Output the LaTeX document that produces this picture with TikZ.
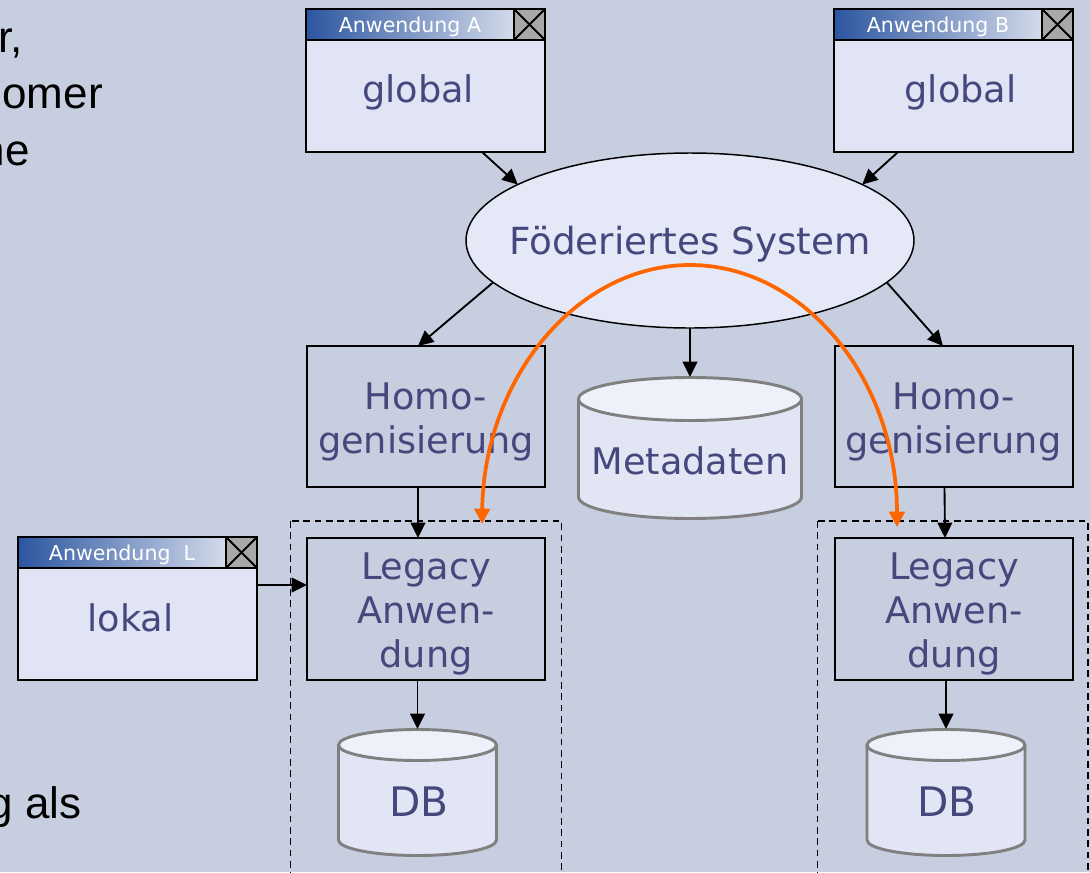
\documentclass[tikz,border=0pt]{standalone}
\usepackage{fontspec}
\setmainfont{DejaVu Sans}
\newfontfamily\slidefont{Liberation Sans}
\usetikzlibrary{arrows.meta,shapes.geometric,calc}

\definecolor{slidebg}{HTML}{C7CEDF}
\definecolor{winfill}{HTML}{E0E4F5}
\definecolor{ellfill}{HTML}{E5E8F6}
\definecolor{labeltext}{HTML}{47477D}
\definecolor{tbdark}{HTML}{2B55A0}
\definecolor{tblight}{HTML}{D3DBEA}
\definecolor{closefill}{HTML}{A8A8A8}
\definecolor{cylbody}{HTML}{E2E5F4}
\definecolor{cyltop}{HTML}{EFF1FA}
\definecolor{cylgray}{HTML}{808080}
\definecolor{linkorange}{HTML}{FF6600}

\tikzset{
  winbody/.style={rectangle, fill=winfill, minimum width=179.25pt, minimum height=107.25pt, inner sep=0pt, outer sep=0pt},
  winline/.style={draw=black, line width=2.2pt},
  crossline/.style={draw=black, line width=1.4pt},
  titletext/.style={text=white, font=\fontsize{15.4}{18}\selectfont, inner sep=0pt},
  bigtext/.style={text=labeltext, font=\fontsize{27.5}{33}\selectfont, align=center, inner sep=0pt},
  dbtext/.style={text=labeltext, font=\fontsize{30.5}{36}\selectfont, inner sep=0pt},
  procbox/.style={rectangle, draw=black, line width=1.5pt, minimum width=178.5pt, inner sep=0pt, outer sep=0pt},
  fedshape/.style={ellipse, draw=black, line width=1.1pt, fill=ellfill, minimum width=336pt, minimum height=131.25pt, inner sep=0pt, outer sep=0pt},
  groupbox/.style={draw=black, line width=1.4pt, dash pattern=on 5pt off 3.5pt},
  cylline/.style={draw=cylgray, line width=2.2pt},
  flow/.style={draw=black, line width=1.4pt, -{Triangle[length=11.5pt,width=11pt]}},
  fedlink/.style={draw=linkorange, line width=2.8pt, {Triangle[length=11.5pt,width=11.5pt]}-{Triangle[length=11.5pt,width=11.5pt]}},
  sidetext/.style={font=\slidefont\fontsize{33}{40}\selectfont, text=black, anchor=base east, inner sep=0pt},
}

% application window: name, centre, title
\newcommand\appwindow[3]{%
  \node[winbody] (#1) at (#2) {};
  \coordinate (#1-tb) at ([xshift=-23.25pt,yshift=-23.25pt]#1.north east);
  \shade[left color=tbdark, right color=tblight] (#1.north west) rectangle (#1-tb);
  \fill[closefill] (#1.north east) rectangle (#1-tb);
  \draw[crossline] (#1.north east) -- (#1-tb);
  \draw[crossline] ([xshift=-23.25pt]#1.north east) -- ([yshift=-23.25pt]#1.north east);
  \draw[winline] (#1-tb |- #1.north) -- (#1-tb);
  \draw[winline] (#1.north west |- #1-tb) -- (#1.north east |- #1-tb);
  \draw[winline] (#1.north west) rectangle (#1.south east);
  \node[titletext] (#1-title) at ([yshift=-1.5pt]$(#1.north west)!0.5!(#1-tb)$) {#3};
}

% database cylinder: centre x, top y, bottom y, half width, cap radius (px)
\newcommand\dbcylinder[5]{%
  \fill[cylbody] (#1-#4,#2+#5) -- (#1-#4,#3-#5)
    arc[start angle=180,end angle=360,x radius=#4*0.75pt,y radius=#5*0.75pt]
    -- (#1+#4,#2+#5) -- cycle;
  \draw[cylline] (#1-#4,#2+#5) -- (#1-#4,#3-#5)
    arc[start angle=180,end angle=360,x radius=#4*0.75pt,y radius=#5*0.75pt]
    -- (#1+#4,#2+#5);
  \draw[cylline, fill=cyltop] (#1,#2+#5) ellipse[x radius=#4*0.75pt, y radius=#5*0.75pt];
}

\begin{document}
\begin{tikzpicture}[x=0.75pt,y=-0.75pt]
\useasboundingbox (0,0) rectangle (1090,872);
\fill[slidebg] (0,0) rectangle (1090,872);
\clip (0,0) rectangle (1090,872);

% slide text running in from the left
\node[sidetext] (frag1) at (23,52) {r,};
\node[sidetext] (frag2) at (103,108) {omer};
\node[sidetext] (frag3) at (30,165) {ne};
\node[sidetext] (frag4) at (82,818) {g als};

% group frames around legacy application and its database
\draw[groupbox] (290.5,521) rectangle (561.5,900);
\draw[groupbox] (817.5,521) rectangle (1088,900);

% applications
\appwindow{winA}{425.5,80.5}{Anwendung A}
\appwindow{winB}{953.5,80.5}{Anwendung B}
\appwindow{winL}{137.5,608.5}{Anwendung\ \ L}
\node[bigtext] (globalA) at (418,92) {global};
\node[bigtext] (globalB) at (960.5,92) {global};
\node[bigtext] (lokal) at (130.5,617.5) {lokal};

% federated layer
\node[fedshape] (fed) at (690,240.5) {};
\node[bigtext, font=\fontsize{28}{33}\selectfont] (fedtext) at (690,244) {Föderiertes System};

% homogenisation and legacy components
\node[procbox, minimum height=105.75pt] (homoL) at (426,416.5) {};
\node[procbox, minimum height=105.75pt] (homoR) at (953.5,416.5) {};
\node[procbox, minimum height=106.5pt] (legL) at (426,609) {};
\node[procbox, minimum height=106.5pt] (legR) at (954,609) {};
\node[bigtext] (homoL-text) at (426,422) {Homo-\\genisierung};
\node[bigtext] (homoR-text) at (953.5,422) {Homo-\\genisierung};
\node[bigtext] (legL-text) at (426,614) {Legacy\\Anwen-\\dung};
\node[bigtext] (legR-text) at (954,614) {Legacy\\Anwen-\\dung};

% data stores
\dbcylinder{690}{377.5}{518.5}{111.5}{21.5}
\coordinate (meta-top) at (690,377);
\node[bigtext] (meta) at (690,461) {Metadaten};
\dbcylinder{417.5}{729.5}{855.5}{79}{15.5}
\coordinate (dbL-top) at (417.5,729);
\node[dbtext] (dbL) at (419,802) {DB};
\dbcylinder{946}{729.5}{855.5}{79}{15.5}
\coordinate (dbR-top) at (946,729);
\node[dbtext] (dbR) at (947,802) {DB};

% connectors
\draw[flow] ([xshift=42.4pt]winA.south) -- (fed.162);
\draw[flow] ([xshift=-41.6pt]winB.south) -- (fed.18);
\draw[flow] (fed.192) -- ([xshift=-6pt]homoL.north);
\draw[flow] (fed.348) -- ([xshift=-7.9pt]homoR.north);
\draw[flow] (fed.south) -- (meta-top);
\draw[flow] ([xshift=-6pt]homoL.south) -- ([xshift=-6pt]legL.north);
\draw[flow] ([xshift=-6.75pt]homoR.south) -- ([xshift=-6.75pt]legR.north);
\draw[flow] (legL.south -| dbL-top) -- (dbL-top);
\draw[flow] (legR.south -| dbR-top) -- (dbR-top);
\draw[flow] ([yshift=17.6pt]winL.east) -- ([yshift=18pt]legL.west);

% link between the two legacy applications through the federation
\coordinate (linkL) at (482,524);
\coordinate (linkR) at (897,527);
\draw[fedlink] (linkL) .. controls (484,378) and (577,265) .. (690,265)
  .. controls (803,265) and (897,378) .. (linkR);
\end{tikzpicture}
\end{document}
